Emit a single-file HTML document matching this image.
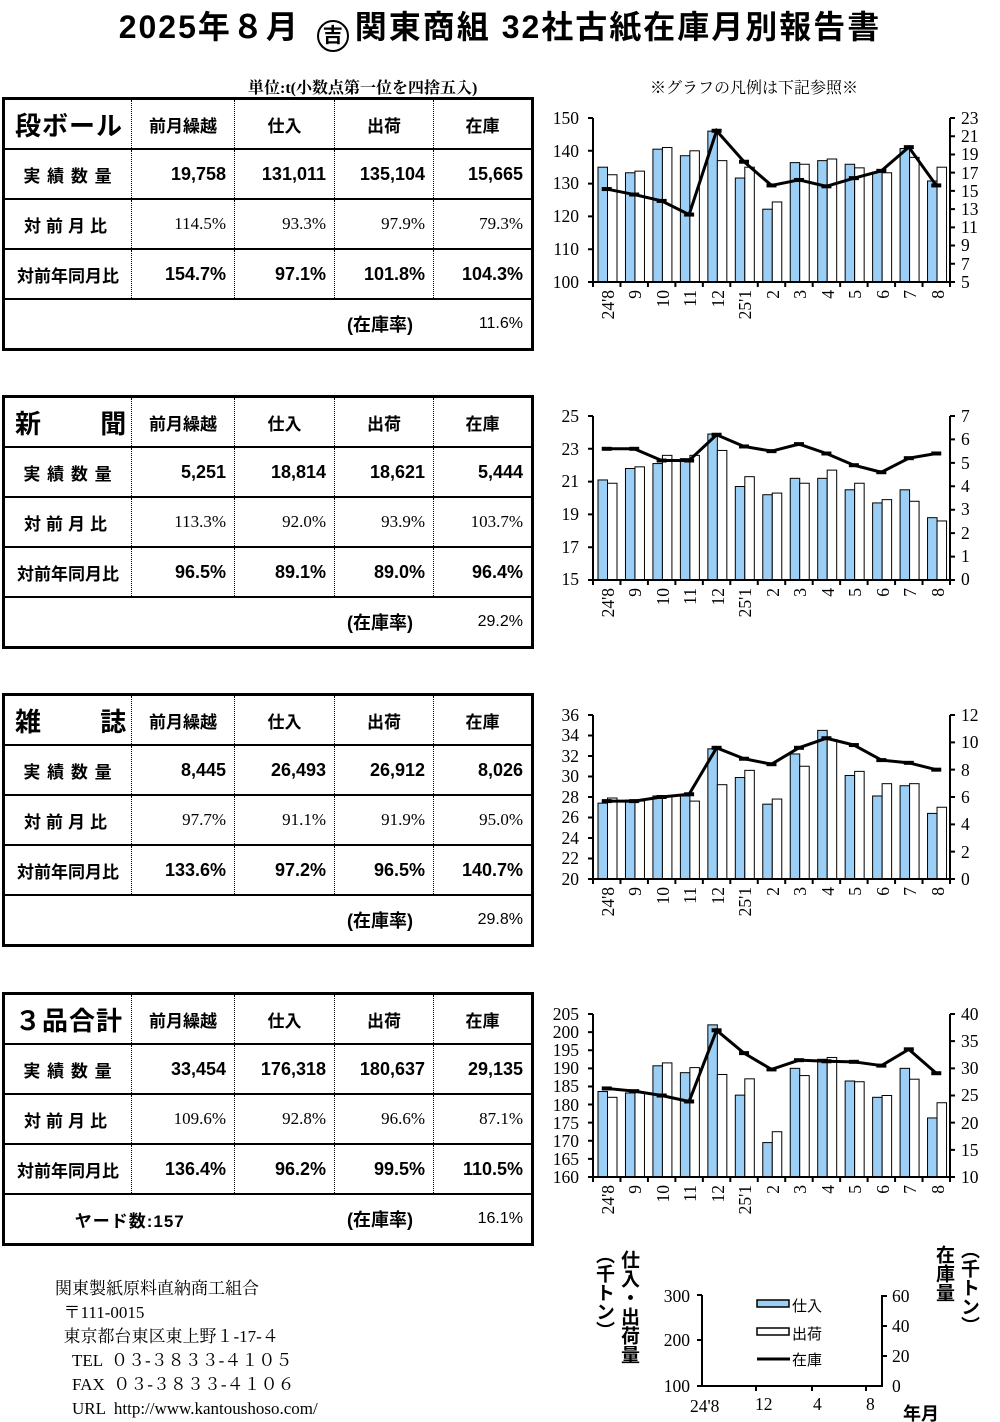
<!DOCTYPE html>
<html><head><meta charset="utf-8">
<style>
body{margin:0;width:1000px;height:1422px;background:#fff;position:relative;overflow:hidden;font-family:"Liberation Sans","Noto Sans CJK JP",sans-serif;color:#000}
.abs{position:absolute}
.title{left:0;top:2px;width:1000px;text-align:center;font-weight:bold;font-size:32px;letter-spacing:2px}
.logo{display:inline-block;width:32px;height:32px;border:2.5px solid #000;border-radius:50%;vertical-align:-4px;font-size:20px;line-height:28px;text-align:center;margin:0 6px;box-sizing:border-box;letter-spacing:0}
table.t{position:absolute;left:2px;width:529px;border-collapse:collapse;border:3px solid #000;table-layout:fixed}
table.t td{height:48px;padding:0;border-bottom:2px solid #000;border-left:1px dotted #000;font-size:18px;font-weight:bold;text-align:right;padding-right:8px}
table.t td:first-child{border-left:none;text-align:center;padding-right:0;font-size:17px;letter-spacing:1px}
table.t tr.h td{text-align:center;padding-right:0;font-size:17px}
table.t tr.h td:first-child{font-size:26px;text-align:left;padding-left:10px}
table.t tr.r td{font-family:"Liberation Serif","Noto Serif CJK SC",serif;font-weight:normal;font-size:17px}
table.t tr.r td:first-child{font-family:"Liberation Sans","Noto Sans CJK JP",sans-serif;font-weight:bold;letter-spacing:5px}
table.t tr.s td{border-left:none}
.foot{left:55px;top:1277px;font-family:"Liberation Serif","Noto Serif CJK JP",serif;font-size:17px;line-height:24px;white-space:pre}
.vt{writing-mode:vertical-rl;font-weight:bold;font-size:19px;line-height:22px}
svg text{font-family:"Liberation Serif",serif;font-size:17.5px}
</style></head><body>
<div class="abs title">2025年８月 <span class="logo">吉</span>関東商組 32社古紙在庫月別報告書</div>
<div class="abs" style="left:248px;top:75px;font-size:16px;font-weight:bold;font-family:'Liberation Serif','Noto Serif CJK JP',serif">単位:t(小数点第一位を四捨五入)</div>
<div class="abs" style="left:650px;top:75px;font-size:16px;font-family:'Liberation Serif','Noto Serif CJK JP',serif">※グラフの凡例は下記参照※</div>

<table class="t" style="top:97px"><colgroup><col style="width:128px"><col style="width:103px"><col style="width:100px"><col style="width:99px"><col style="width:99px"></colgroup>
<tr class="h"><td>段ボール</td><td>前月繰越</td><td>仕入</td><td>出荷</td><td>在庫</td></tr>
<tr><td>実 績 数 量</td><td>19,758</td><td>131,011</td><td>135,104</td><td>15,665</td></tr>
<tr class="r"><td>対前月比</td><td>114.5%</td><td>93.3%</td><td>97.9%</td><td>79.3%</td></tr>
<tr><td style="letter-spacing:0">対前年同月比</td><td>154.7%</td><td>97.1%</td><td>101.8%</td><td>104.3%</td></tr>
<tr class="s"><td></td><td></td><td></td><td style="text-align:center">(在庫率)</td><td style="font-weight:normal;font-size:16px">11.6%</td></tr>
</table>
<table class="t" style="top:395px"><colgroup><col style="width:128px"><col style="width:103px"><col style="width:100px"><col style="width:99px"><col style="width:99px"></colgroup>
<tr class="h"><td style="word-spacing:50px">新 聞</td><td>前月繰越</td><td>仕入</td><td>出荷</td><td>在庫</td></tr>
<tr><td>実 績 数 量</td><td>5,251</td><td>18,814</td><td>18,621</td><td>5,444</td></tr>
<tr class="r"><td>対前月比</td><td>113.3%</td><td>92.0%</td><td>93.9%</td><td>103.7%</td></tr>
<tr><td style="letter-spacing:0">対前年同月比</td><td>96.5%</td><td>89.1%</td><td>89.0%</td><td>96.4%</td></tr>
<tr class="s"><td></td><td></td><td></td><td style="text-align:center">(在庫率)</td><td style="font-weight:normal;font-size:16px">29.2%</td></tr>
</table>
<table class="t" style="top:693px"><colgroup><col style="width:128px"><col style="width:103px"><col style="width:100px"><col style="width:99px"><col style="width:99px"></colgroup>
<tr class="h"><td style="word-spacing:50px">雑 誌</td><td>前月繰越</td><td>仕入</td><td>出荷</td><td>在庫</td></tr>
<tr><td>実 績 数 量</td><td>8,445</td><td>26,493</td><td>26,912</td><td>8,026</td></tr>
<tr class="r"><td>対前月比</td><td>97.7%</td><td>91.1%</td><td>91.9%</td><td>95.0%</td></tr>
<tr><td style="letter-spacing:0">対前年同月比</td><td>133.6%</td><td>97.2%</td><td>96.5%</td><td>140.7%</td></tr>
<tr class="s"><td></td><td></td><td></td><td style="text-align:center">(在庫率)</td><td style="font-weight:normal;font-size:16px">29.8%</td></tr>
</table>
<table class="t" style="top:992px"><colgroup><col style="width:128px"><col style="width:103px"><col style="width:100px"><col style="width:99px"><col style="width:99px"></colgroup>
<tr class="h"><td>３品合計</td><td>前月繰越</td><td>仕入</td><td>出荷</td><td>在庫</td></tr>
<tr><td>実 績 数 量</td><td>33,454</td><td>176,318</td><td>180,637</td><td>29,135</td></tr>
<tr class="r"><td>対前月比</td><td>109.6%</td><td>92.8%</td><td>96.6%</td><td>87.1%</td></tr>
<tr><td style="letter-spacing:0">対前年同月比</td><td>136.4%</td><td>96.2%</td><td>99.5%</td><td>110.5%</td></tr>
<tr class="s"><td colspan="2" style="text-align:center;padding-left:20px">ヤード数:157</td><td></td><td style="text-align:center">(在庫率)</td><td style="font-weight:normal;font-size:16px">16.1%</td></tr>
</table>

<div class="abs foot">関東製紙原料直納商工組合
  〒111-0015
  東京都台東区東上野１-17-４
    TEL  ０３-３８３３-４１０５
    FAX  ０３-３８３３-４１０６
    URL  http://www.kantoushoso.com/</div>

<svg class="abs" style="left:0;top:0" width="1000" height="1422" id="sv">
<g id="charts"></g>
<g text-anchor="end">
<text x="579" y="124">150</text><text x="579" y="157">140</text><text x="579" y="189">130</text><text x="579" y="222">120</text><text x="579" y="255">110</text><text x="579" y="288">100</text>
<text x="579" y="422">25</text><text x="579" y="455">23</text><text x="579" y="487">21</text><text x="579" y="520">19</text><text x="579" y="553">17</text><text x="579" y="585">15</text>
<text x="579" y="721">36</text><text x="579" y="741">34</text><text x="579" y="762">32</text><text x="579" y="782">30</text><text x="579" y="803">28</text><text x="579" y="823">26</text><text x="579" y="844">24</text><text x="579" y="864">22</text><text x="579" y="885">20</text>
<text x="579" y="1020">205</text><text x="579" y="1038">200</text><text x="579" y="1056">195</text><text x="579" y="1074">190</text><text x="579" y="1092">185</text><text x="579" y="1111">180</text><text x="579" y="1129">175</text><text x="579" y="1147">170</text><text x="579" y="1165">165</text><text x="579" y="1183">160</text>
<text x="690" y="1302">300</text><text x="690" y="1346">200</text><text x="690" y="1392">100</text>
</g>
<g>
<text x="961" y="124">23</text><text x="961" y="142">21</text><text x="961" y="160">19</text><text x="961" y="179">17</text><text x="961" y="197">15</text><text x="961" y="215">13</text><text x="961" y="233">11</text><text x="961" y="251">9</text><text x="961" y="270">7</text><text x="961" y="288">5</text>
<text x="961" y="422">7</text><text x="961" y="445">6</text><text x="961" y="469">5</text><text x="961" y="492">4</text><text x="961" y="515">3</text><text x="961" y="539">2</text><text x="961" y="562">1</text><text x="961" y="585">0</text>
<text x="961" y="721">12</text><text x="961" y="748">10</text><text x="961" y="776">8</text><text x="961" y="803">6</text><text x="961" y="830">4</text><text x="961" y="858">2</text><text x="961" y="885">0</text>
<text x="961" y="1020">40</text><text x="961" y="1047">35</text><text x="961" y="1074">30</text><text x="961" y="1101">25</text><text x="961" y="1129">20</text><text x="961" y="1156">15</text><text x="961" y="1183">10</text>
<text x="892" y="1302">60</text><text x="892" y="1332">40</text><text x="892" y="1362">20</text><text x="892" y="1392">0</text>
</g>
<g id="xl1"><text transform="translate(614,290) rotate(-90)" text-anchor="end">24'8</text><text transform="translate(641,290) rotate(-90)" text-anchor="end">9</text><text transform="translate(669,290) rotate(-90)" text-anchor="end">10</text><text transform="translate(696,290) rotate(-90)" text-anchor="end">11</text><text transform="translate(724,290) rotate(-90)" text-anchor="end">12</text><text transform="translate(751,290) rotate(-90)" text-anchor="end">25'1</text><text transform="translate(779,290) rotate(-90)" text-anchor="end">2</text><text transform="translate(806,290) rotate(-90)" text-anchor="end">3</text><text transform="translate(834,290) rotate(-90)" text-anchor="end">4</text><text transform="translate(861,290) rotate(-90)" text-anchor="end">5</text><text transform="translate(889,290) rotate(-90)" text-anchor="end">6</text><text transform="translate(916,290) rotate(-90)" text-anchor="end">7</text><text transform="translate(944,290) rotate(-90)" text-anchor="end">8</text></g>
<g transform="translate(0,298)"><text transform="translate(614,290) rotate(-90)" text-anchor="end">24'8</text><text transform="translate(641,290) rotate(-90)" text-anchor="end">9</text><text transform="translate(669,290) rotate(-90)" text-anchor="end">10</text><text transform="translate(696,290) rotate(-90)" text-anchor="end">11</text><text transform="translate(724,290) rotate(-90)" text-anchor="end">12</text><text transform="translate(751,290) rotate(-90)" text-anchor="end">25'1</text><text transform="translate(779,290) rotate(-90)" text-anchor="end">2</text><text transform="translate(806,290) rotate(-90)" text-anchor="end">3</text><text transform="translate(834,290) rotate(-90)" text-anchor="end">4</text><text transform="translate(861,290) rotate(-90)" text-anchor="end">5</text><text transform="translate(889,290) rotate(-90)" text-anchor="end">6</text><text transform="translate(916,290) rotate(-90)" text-anchor="end">7</text><text transform="translate(944,290) rotate(-90)" text-anchor="end">8</text></g>
<g transform="translate(0,597)"><text transform="translate(614,290) rotate(-90)" text-anchor="end">24'8</text><text transform="translate(641,290) rotate(-90)" text-anchor="end">9</text><text transform="translate(669,290) rotate(-90)" text-anchor="end">10</text><text transform="translate(696,290) rotate(-90)" text-anchor="end">11</text><text transform="translate(724,290) rotate(-90)" text-anchor="end">12</text><text transform="translate(751,290) rotate(-90)" text-anchor="end">25'1</text><text transform="translate(779,290) rotate(-90)" text-anchor="end">2</text><text transform="translate(806,290) rotate(-90)" text-anchor="end">3</text><text transform="translate(834,290) rotate(-90)" text-anchor="end">4</text><text transform="translate(861,290) rotate(-90)" text-anchor="end">5</text><text transform="translate(889,290) rotate(-90)" text-anchor="end">6</text><text transform="translate(916,290) rotate(-90)" text-anchor="end">7</text><text transform="translate(944,290) rotate(-90)" text-anchor="end">8</text></g>
<g transform="translate(0,895)"><text transform="translate(614,290) rotate(-90)" text-anchor="end">24'8</text><text transform="translate(641,290) rotate(-90)" text-anchor="end">9</text><text transform="translate(669,290) rotate(-90)" text-anchor="end">10</text><text transform="translate(696,290) rotate(-90)" text-anchor="end">11</text><text transform="translate(724,290) rotate(-90)" text-anchor="end">12</text><text transform="translate(751,290) rotate(-90)" text-anchor="end">25'1</text><text transform="translate(779,290) rotate(-90)" text-anchor="end">2</text><text transform="translate(806,290) rotate(-90)" text-anchor="end">3</text><text transform="translate(834,290) rotate(-90)" text-anchor="end">4</text><text transform="translate(861,290) rotate(-90)" text-anchor="end">5</text><text transform="translate(889,290) rotate(-90)" text-anchor="end">6</text><text transform="translate(916,290) rotate(-90)" text-anchor="end">7</text><text transform="translate(944,290) rotate(-90)" text-anchor="end">8</text></g>
<g stroke="#000" stroke-width="2" fill="none">
<path d="M702,1295 V1386 H882 V1295"/>
<path d="M697,1295 H702 M697,1340 H702 M697,1386 H702 M882,1296 H887 M882,1326 H887 M882,1356 H887 M756,1386 V1391 M812,1386 V1391 M866,1386 V1391"/>
</g>
<rect x="757" y="1300" width="32" height="7" fill="#9ccff5" stroke="#000" stroke-width="1.5"/>
<rect x="757" y="1328" width="32" height="7" fill="#fff" stroke="#000" stroke-width="1.5"/>
<path d="M757,1359 H790" stroke="#000" stroke-width="3"/>
<g><text x="792" y="1311" style="font-family:'Noto Sans CJK JP',sans-serif;font-size:15px">仕入</text><text x="792" y="1339" style="font-family:'Noto Sans CJK JP',sans-serif;font-size:15px">出荷</text><text x="792" y="1365" style="font-family:'Noto Sans CJK JP',sans-serif;font-size:15px">在庫</text></g>
<text x="690" y="1412">24'8</text><text x="755" y="1410">12</text><text x="813" y="1410">4</text><text x="866" y="1410">8</text>
<text x="903" y="1420" style="font-family:'Noto Sans CJK JP',sans-serif;font-weight:bold;font-size:18px">年月</text>
</svg>
<div class="abs vt" style="left:617px;top:1250px">仕入・出荷量</div>
<div class="abs vt" style="left:592px;top:1245px">（千トン）</div>
<div class="abs vt" style="left:932px;top:1245px">在庫量</div>
<div class="abs vt" style="left:957px;top:1240px">（千トン）</div>

<script>
var charts=[
{top:118,bot:282,lmin:100,lmax:150,rmin:5,rmax:23,
b:[135,133.3,140.5,138.5,146,131.7,122.2,136.4,137,135.9,133.5,140.7,130.8],
w:[132.7,133.8,141,140,137,135,124.4,135.9,137.5,134.8,133.3,138,135],
l:[15.2,14.6,13.9,12.4,21.6,18.2,15.6,16.2,15.5,16.4,17.2,19.8,15.6],lt:6,rt:10},
{top:416,bot:580,lmin:15,lmax:25,rmin:0,rmax:7,
b:[21.1,21.8,22.1,22.4,23.9,20.7,20.2,21.2,21.2,20.5,19.7,20.5,18.8],
w:[20.9,21.9,22.6,22.6,22.9,21.3,20.3,20.9,21.7,20.9,19.9,19.8,18.6],
l:[5.6,5.6,5.1,5.1,6.2,5.7,5.5,5.8,5.4,4.9,4.6,5.2,5.4],lt:6,rt:8},
{top:715,bot:879,lmin:20,lmax:36,rmin:0,rmax:12,
b:[27.4,27.7,28.1,28.1,32.7,29.9,27.3,32.2,34.5,30.1,28.1,29.1,26.4],
w:[27.9,27.6,28.1,27.6,29.2,30.6,27.8,31,33.6,30.5,29.3,29.3,27.0],
l:[5.7,5.7,6.0,6.2,9.6,8.8,8.4,9.6,10.3,9.8,8.7,8.5,8.0],lt:9,rt:7},
{top:1014,bot:1177,lmin:160,lmax:205,rmin:10,rmax:40,
b:[183.6,183.2,190.7,188.8,202,182.6,169.5,190,192.5,186.5,182,190,176.3],
w:[182,183.3,191.5,190.2,188.3,187.1,172.5,188,193,186.3,182.5,187,180.5],
l:[26.3,25.8,25,23.9,37,32.8,29.8,31.5,31.3,31.2,30.5,33.5,29.1],lt:10,rt:7}];
var s='',L=593,R=950,cw=(R-L)/13;
charts.forEach(function(c){
 var ly=function(v){return c.bot-(v-c.lmin)/(c.lmax-c.lmin)*(c.bot-c.top)};
 var ry=function(v){return c.bot-(v-c.rmin)/(c.rmax-c.rmin)*(c.bot-c.top)};
 var pts=[],mk='';
 for(var i=0;i<13;i++){var x=L+cw*i;
  var y1=ly(c.b[i]),y2=ly(c.w[i]);
  s+='<rect x="'+(x+5)+'" y="'+y1+'" width="9.5" height="'+(c.bot-y1)+'" fill="#9ccff5" stroke="#000" stroke-width="1"/>';
  s+='<rect x="'+(x+14.5)+'" y="'+y2+'" width="9.5" height="'+(c.bot-y2)+'" fill="#fff" stroke="#000" stroke-width="1"/>';
  var px=x+cw/2,py=ry(c.l[i]);pts.push(px+','+py);
  mk+='<path d="M'+(px-5)+','+py+' H'+(px+5)+'" stroke="#000" stroke-width="4"/>';}
 s+='<polyline points="'+pts.join(' ')+'" fill="none" stroke="#000" stroke-width="3"/>'+mk;
 var d='M'+L+','+c.top+' V'+c.bot+' H'+R+' V'+c.top;
 for(var k=0;k<c.lt;k++){var yy=c.top+(c.bot-c.top)*k/(c.lt-1);d+=' M'+(L-5)+','+yy+' H'+L;}
 for(var k=0;k<c.rt;k++){var yy=c.top+(c.bot-c.top)*k/(c.rt-1);d+=' M'+R+','+yy+' H'+(R+5);}
 for(var i=0;i<=13;i++){var x=L+cw*i;d+=' M'+x+','+c.bot+' V'+(c.bot+5);}
 s+='<path d="'+d+'" fill="none" stroke="#000" stroke-width="2"/>';
});
document.getElementById('charts').innerHTML=s;
</script>
</body></html>
